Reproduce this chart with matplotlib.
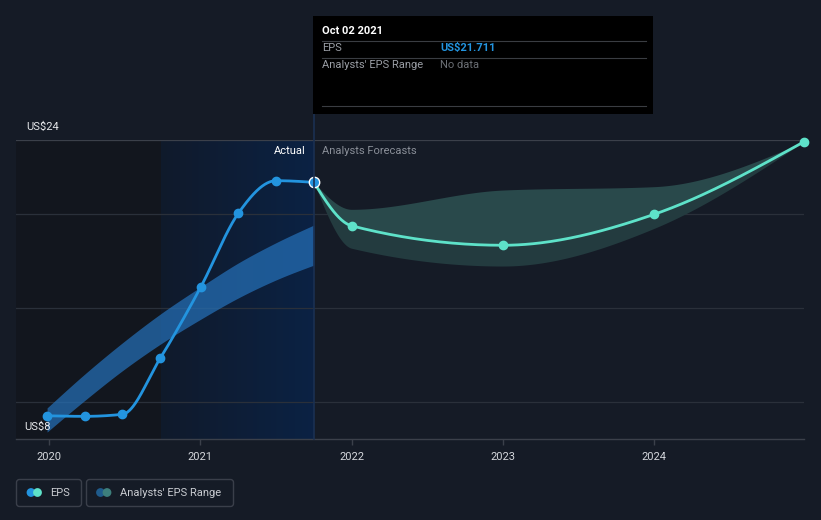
import numpy as np
import matplotlib
matplotlib.use("Agg")
import matplotlib.pyplot as plt
import matplotlib.dates as mdates
from matplotlib.patches import Rectangle, FancyBboxPatch, Circle
from matplotlib.transforms import IdentityTransform
from matplotlib.colors import LinearSegmentedColormap
from datetime import datetime

plt.rcParams['font.family'] = ['Roboto', 'DejaVu Sans']

# EPS reportado (trimestral)
eps_dates = ["2019-12-28", "2020-03-28", "2020-06-27", "2020-09-26",
             "2021-01-02", "2021-04-03", "2021-07-03", "2021-10-02"]
eps_values = [9.24, 9.21, 9.32, 12.31, 16.12, 20.07, 21.80, 21.711]

# faixa histórica dos analistas
past_low = [8.37, 10.06, 11.65, 13.06, 14.40, 15.54, 16.50, 17.29]
past_high = [9.66, 11.47, 13.14, 14.67, 16.13, 17.41, 18.49, 19.43]

# previsões
fc_dates = ["2021-10-02", "2022-01-01", "2023-01-01", "2024-01-01", "2024-12-28"]
fc_values = [21.711, 19.39, 18.35, 20.00, 23.88]
fc_low = [21.711, 18.19, 17.24, 19.25, 23.88]
fc_high = [21.711, 20.27, 21.30, 21.48, 23.88]

year_ticks = ["2020", "2021", "2022", "2023", "2024"]

BG = "#151b26"
BLUE = "#2394df"
TEAL = "#5ee2c9"

W, H = 821, 520


def d2n(lst):
    return mdates.date2num([datetime.strptime(s, "%Y-%m-%d") for s in lst])


def monotone(xs, ys, n=60):
    # curva monotona (estilo d3 curveMonotoneX)
    xs = np.asarray(xs, float)
    ys = np.asarray(ys, float)
    h = np.diff(xs)
    s = np.diff(ys) / h
    m = np.zeros(len(xs))
    for i in range(1, len(xs) - 1):
        p = (s[i - 1] * h[i] + s[i] * h[i - 1]) / (h[i - 1] + h[i])
        m[i] = (np.sign(s[i - 1]) + np.sign(s[i])) * min(abs(s[i - 1]), abs(s[i]), 0.5 * abs(p))
    m[0] = (3 * s[0] - m[1]) / 2 if len(xs) > 2 else s[0]
    m[-1] = (3 * s[-1] - m[-2]) / 2 if len(xs) > 2 else s[-1]
    ox, oy = [], []
    for i in range(len(xs) - 1):
        t = np.linspace(0, 1, n, endpoint=(i == len(xs) - 2))
        h00 = 2 * t**3 - 3 * t**2 + 1
        h10 = t**3 - 2 * t**2 + t
        h01 = -2 * t**3 + 3 * t**2
        h11 = t**3 - t**2
        ox.append(xs[i] + t * h[i])
        oy.append(h00 * ys[i] + h10 * h[i] * m[i] + h01 * ys[i + 1] + h11 * h[i] * m[i + 1])
    return np.concatenate(ox), np.concatenate(oy)


fig = plt.figure(figsize=(W / 100, H / 100), dpi=100, facecolor=BG)
ax = fig.add_axes([16 / W, 1 - 439 / H, (804 - 16) / W, (439 - 139.5) / H])
ax.set_facecolor(BG)

x_eps = d2n(eps_dates)
x_fc = d2n(fc_dates)
xmin = mdates.date2num(datetime(2019, 10, 14))
xmax = mdates.date2num(datetime(2024, 12, 28))
ax.set_xlim(xmin, xmax)
ax.set_ylim(8, 24)

# regiões sombreadas
x_hl = mdates.date2num(datetime(2020, 9, 28))
ax.axvspan(xmin, x_hl, color="#12161e", zorder=0, lw=0)
grad = np.linspace(0, 1, 256).reshape(1, -1)
cmap = LinearSegmentedColormap.from_list("hl", ["#101a2b", "#0b2244"])
ax.imshow(grad, cmap=cmap, aspect="auto", extent=[x_hl, x_eps[-1], 8, 24], zorder=0)

# grade
for v in [10, 15, 20]:
    ax.axhline(v, color="#2a303a", lw=0.9, zorder=1)
ax.axhline(24, color="#3b404a", lw=0.9, zorder=1)

# faixa passada
xs, lo = monotone(x_eps, past_low)
_, hi = monotone(x_eps, past_high)
ax.fill_between(xs, lo, hi, color="#2570b8", alpha=0.72, lw=0, zorder=2)

# faixa de previsão (dois tons)
xf, yf = monotone(x_fc, fc_values)
_, flo = monotone(x_fc, fc_low)
_, fhi = monotone(x_fc, fc_high)
ax.fill_between(xf, yf, fhi, color="#29494b", lw=0, zorder=2)
ax.fill_between(xf, flo, yf, color="#233b3f", lw=0, zorder=2)

# linhas
xe, ye = monotone(x_eps, eps_values)
ax.plot(xe, ye, color=BLUE, lw=2, zorder=4, solid_capstyle="round")
ax.plot(x_eps[:-1], eps_values[:-1], "o", color=BLUE, ms=6, zorder=5)
ax.plot(xf, yf, color=TEAL, lw=2, zorder=4, solid_capstyle="round")
ax.plot(x_fc[1:], fc_values[1:], "o", color=TEAL, ms=6, zorder=5, clip_on=False)
ax.plot(x_eps[-1], eps_values[-1], "o", color=BLUE, mec="white", mew=1.0, ms=7.5, zorder=6)

# eixos
for sp in ["top", "right", "left"]:
    ax.spines[sp].set_visible(False)
ax.spines["bottom"].set_color("#3b404a")
ax.spines["bottom"].set_linewidth(1)
ax.set_yticks([])
tick_pos = mdates.date2num([datetime(int(y), 1, 1) for y in year_ticks])
ax.set_xticks(tick_pos)
ax.set_xticklabels(year_ticks)
ax.tick_params(axis="x", colors="#3b404a", length=4, width=1, pad=5, labelsize=8, labelcolor="#d4d7dc")

# linha vertical do cursor
fig.add_artist(plt.Line2D([314 / W, 314 / W], [1 - 439 / H, 1 - 114 / H], color="#1a3052", lw=1.2, zorder=3))


def ft(px, py, s, **kw):
    fig.text(px / W, 1 - py / H, s, va="center", **kw)


ft(26, 127, "US$24", color="#e6e8eb", fontsize=8)
ft(24, 427, "US$8", color="#e6e8eb", fontsize=8)
ft(306, 151, "Actual", color="#ffffff", fontsize=8, ha="right")
ft(322, 151, "Analysts Forecasts", color="#8a8f98", fontsize=8)

# tooltip
fig.add_artist(Rectangle((313 / W, 1 - 114 / H), 340 / W, 98 / H, transform=fig.transFigure,
                         facecolor="#000000", edgecolor="none", zorder=10))
for yy in [40.5, 57.5, 106.5]:
    fig.add_artist(plt.Line2D([322 / W, 646 / W], [1 - yy / H, 1 - yy / H], color="#3a3d42", lw=0.8, zorder=11))
ft(322, 31, "Oct 02 2021", color="#ffffff", fontsize=8, fontweight="bold", zorder=12)
ft(322, 48, "EPS", color="#9a9ea5", fontsize=8, zorder=12)
ft(440, 48, "US$21.711", color=BLUE, fontsize=8, fontweight="bold", zorder=12)
ft(322, 65, "Analysts' EPS Range", color="#9a9ea5", fontsize=8, zorder=12)
ft(440, 65, "No data", color="#6b6f75", fontsize=8, zorder=12)

# legenda
idt = IdentityTransform()
for x0, x1 in [(16.5, 81.5), (86.5, 233.5)]:
    fig.add_artist(FancyBboxPatch((x0, H - 506.5), x1 - x0, 27, boxstyle="round,pad=0,rounding_size=3",
                                  transform=idt, facecolor="none", edgecolor="#3a3f4a", lw=1))
for cx, c in [(31, BLUE), (37.5, TEAL), (100.5, "#1f5b8c"), (107, "#3d7f7c")]:
    fig.add_artist(Circle((cx, H - 492.5), 4.4, transform=idt, color=c, lw=0))
ft(50, 492.5, "EPS", color="#c9ccd1", fontsize=8)
ft(120, 492.5, "Analysts' EPS Range", color="#c9ccd1", fontsize=8)

fig.savefig("out.png", dpi=100, facecolor=BG)
